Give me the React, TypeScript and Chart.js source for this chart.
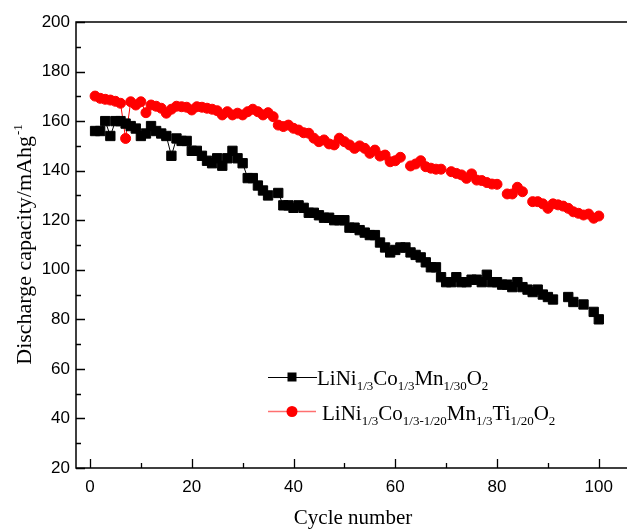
import React, { useEffect, useRef } from "react";
import { Chart, registerables } from "chart.js";

Chart.register(...registerables);

// ---- data ----
const cycles: number[] = Array.from({ length: 100 }, (_, i) => i + 1);

// LiNi1/3Co1/3Mn1/30O2 (black squares)
const capacityA: (number | null)[] = [
  156, 156, 160, 154, 160, 160, 159, 158, 157, 154,
  155, 158, 156, 155, 154, 146, 153, 152, 152, 148,
  148, 146, 144, 143, 145, 142, 145, 148, 145, 143,
  137, 137, 134, 132, 130, null, 131, 126, 126, 125,
  126, 125, 123, 123, 122, 121, 121, 120, 120, 120,
  117, 117, 116, 115, 114, 114, 111, 109, 107, 108,
  109, 109, 107, 106, 105, 103, 101, 101, 97, 95,
  95, 97, 95, 95, 96, 96, 95, 98, 95, 95,
  94, 94, 93, 95, 93, 92, 91, 92, 90, 89,
  88, null, null, 89, 87, null, 86, null, 83, 80,
];

// LiNi1/3Co1/3-1/20Mn1/3Ti1/20O2 (red circles)
const capacityB: (number | null)[] = [
  170.1, 169.2, 168.8, 168.5, 168, 167.2, 153, 167.8, 166.5, 167.8,
  163.4, 166.5, 166, 165.2, 163.2, 164.8, 166, 165.8, 165.6, 164.5,
  165.8, 165.6, 165.2, 164.8, 164.2, 162.5, 163.8, 162.5, 163.2, 162.5,
  163.8, 164.8, 163.8, 162.5, 163.4, 161.8, 158.4, 157.8, 158.4, 157.1,
  156.4, 155.3, 155.1, 153.1, 151.7, 152.4, 150.8, 150.4, 153.1, 151.7,
  150.4, 149, 150, 149, 147, 148.3, 145.9, 146.3, 143.6, 144,
  145.4, null, 141.9, 142.7, 144, 141.6, 141, 140.6, 140.6, null,
  139.6, 138.9, 138.3, 136.9, 138.7, 136.2, 136, 135.2, 134.6, 134.5,
  null, 130.6, 130.6, 133.3, 131.5, null, 127.5, 127.5, 126.6, 124.8,
  126.6, 126.2, 125.7, 124.8, 123.4, 122.8, 122.1, 122.5, 120.8, 121.7,
];

const xMajorTicks = [0, 20, 40, 60, 80, 100];
const xMinorTicks = [10, 30, 50, 70, 90];
const yMajorTicks = [20, 40, 60, 80, 100, 120, 140, 160, 180, 200];
const yMinorTicks = [30, 50, 70, 90, 110, 130, 150, 170, 190];

const xTitle = "Cycle number";
const yTitle = "Discharge capacity/mAhg";
const yTitleSup = "-1";

type Part = { t: string; sub?: boolean };
const legendA: Part[] = [
  { t: "LiNi" }, { t: "1/3", sub: true }, { t: "Co" }, { t: "1/3", sub: true },
  { t: "Mn" }, { t: "1/30", sub: true }, { t: "O" }, { t: "2", sub: true },
];
const legendB: Part[] = [
  { t: "LiNi" }, { t: "1/3", sub: true }, { t: "Co" }, { t: "1/3-1/20", sub: true },
  { t: "Mn" }, { t: "1/3", sub: true }, { t: "Ti" }, { t: "1/20", sub: true },
  { t: "O" }, { t: "2", sub: true },
];

const SERIF = "'Liberation Serif', 'Times New Roman', serif";
const SANS = "'Liberation Sans', Arial, sans-serif";
const RED = "#ff0000";

function drawParts(ctx: CanvasRenderingContext2D, parts: Part[], x: number, y: number, size: number, subSize: number) {
  let cx = x;
  for (const p of parts) {
    ctx.font = `${p.sub ? subSize : size}px ${SERIF}`;
    ctx.fillText(p.t, cx, p.sub ? y + 5 : y);
    cx += ctx.measureText(p.t).width;
  }
}

const decorPlugin = {
  id: "decor",
  afterDraw(chart: any) {
    const { ctx, chartArea } = chart;
    const { left, top, right, bottom } = chartArea;
    const xs = chart.scales.x;
    const ys = chart.scales.y;
    ctx.save();
    ctx.strokeStyle = "#000";
    ctx.lineWidth = 1.5;
    ctx.beginPath();
    ctx.moveTo(right + 20, top);
    ctx.lineTo(left, top);
    ctx.lineTo(left, bottom);
    ctx.lineTo(right + 20, bottom);
    ctx.stroke();

    ctx.lineWidth = 1.3;
    ctx.beginPath();
    for (const v of xMajorTicks) {
      const px = Math.round(xs.getPixelForValue(v)) + 0.5;
      ctx.moveTo(px, bottom); ctx.lineTo(px, bottom - 9);
    }
    for (const v of xMinorTicks) {
      const px = Math.round(xs.getPixelForValue(v)) + 0.5;
      ctx.moveTo(px, bottom); ctx.lineTo(px, bottom - 5);
    }
    for (const v of yMajorTicks) {
      const py = Math.round(ys.getPixelForValue(v)) + 0.5;
      ctx.moveTo(left, py); ctx.lineTo(left + 9, py);
    }
    for (const v of yMinorTicks) {
      const py = Math.round(ys.getPixelForValue(v)) + 0.5;
      ctx.moveTo(left, py); ctx.lineTo(left + 5, py);
    }
    ctx.stroke();

    // axis titles
    ctx.fillStyle = "#000";
    ctx.textBaseline = "alphabetic";
    ctx.textAlign = "left";
    ctx.font = `21px ${SERIF}`;
    const xw = ctx.measureText(xTitle).width;
    ctx.fillText(xTitle, 353 - xw / 2, 524);

    ctx.save();
    ctx.translate(31, 245);
    ctx.rotate(-Math.PI / 2);
    ctx.font = `22px ${SERIF}`;
    const tw = ctx.measureText(yTitle).width;
    ctx.font = `13px ${SERIF}`;
    const sw = ctx.measureText(yTitleSup).width;
    const start = -(tw + sw) / 2;
    ctx.font = `22px ${SERIF}`;
    ctx.fillText(yTitle, start, 0);
    ctx.font = `13px ${SERIF}`;
    ctx.fillText(yTitleSup, start + tw + 1, -9);
    ctx.restore();

    // legend
    // row 1
    ctx.strokeStyle = "#000";
    ctx.lineWidth = 1;
    ctx.beginPath();
    ctx.moveTo(268, 377.5); ctx.lineTo(317, 377.5);
    ctx.stroke();
    ctx.fillStyle = "#000";
    ctx.fillRect(287.5, 372.5, 9, 9);
    drawParts(ctx, legendA, 317, 385, 21, 13);
    // row 2
    ctx.strokeStyle = "#ff7070";
    ctx.lineWidth = 1.5;
    ctx.beginPath();
    ctx.moveTo(268, 411.5); ctx.lineTo(316, 411.5);
    ctx.stroke();
    ctx.fillStyle = RED;
    ctx.beginPath();
    ctx.arc(292, 411.5, 5.5, 0, Math.PI * 2);
    ctx.fill();
    ctx.fillStyle = "#000";
    drawParts(ctx, legendB, 322, 420, 21, 13);
    ctx.restore();
  },
};

export default function App() {
  const ref = useRef<HTMLCanvasElement | null>(null);
  useEffect(() => {
    document.body.style.margin = "0";
    document.body.style.overflow = "hidden";
    document.documentElement.style.overflow = "hidden";
    const canvas = ref.current;
    if (!canvas) return;
    const chart = new Chart(canvas, {
      type: "line",
      data: {
        datasets: [
          {
            label: "LiNi1/3Co1/3Mn1/30O2",
            data: cycles.map((c, i) => ({ x: c, y: capacityA[i] })) as any,
            borderColor: "#000",
            backgroundColor: "#000",
            borderWidth: 1,
            pointStyle: "rect",
            pointRadius: 6.6,
            pointBorderWidth: 1,
            pointBorderColor: "#000",
            pointBackgroundColor: "#000",
            spanGaps: false,
          },
          {
            label: "LiNi1/3Co1/3-1/20Mn1/3Ti1/20O2",
            data: cycles.map((c, i) => ({ x: c, y: capacityB[i] })) as any,
            borderColor: RED,
            backgroundColor: RED,
            borderWidth: 1,
            pointStyle: "circle",
            pointRadius: 5,
            pointBorderWidth: 1,
            pointBorderColor: RED,
            pointBackgroundColor: RED,
            spanGaps: false,
          },
        ],
      },
      options: {
        responsive: false,
        animation: false,
        devicePixelRatio: 1,
        layout: { padding: { left: 0, top: 22, right: 20, bottom: 0 } },
        plugins: { legend: { display: false }, tooltip: { enabled: false } },
        scales: {
          x: {
            type: "linear",
            min: -2.75,
            max: 108.1,
            grid: { display: false, drawTicks: false },
            border: { display: false },
            afterBuildTicks: (s: any) => { s.ticks = xMajorTicks.map((v) => ({ value: v })); },
            afterFit: (s: any) => { s.height = 62; },
            ticks: { color: "#000", padding: 9, font: { family: SANS, size: 17 }, maxRotation: 0 },
          },
          y: {
            type: "linear",
            min: 20,
            max: 200,
            grid: { display: false, drawTicks: false },
            border: { display: false },
            afterBuildTicks: (s: any) => { s.ticks = yMajorTicks.map((v) => ({ value: v })); },
            afterFit: (s: any) => { s.width = 76; },
            ticks: { color: "#000", padding: 6, font: { family: SANS, size: 17 } },
          },
        },
      },
      plugins: [decorPlugin],
    });
    return () => chart.destroy();
  }, []);
  return (
    <div style={{ width: 627, height: 530, overflow: "hidden", position: "relative" }}>
      <canvas ref={ref} width={660} height={530} style={{ display: "block" }} />
    </div>
  );
}
